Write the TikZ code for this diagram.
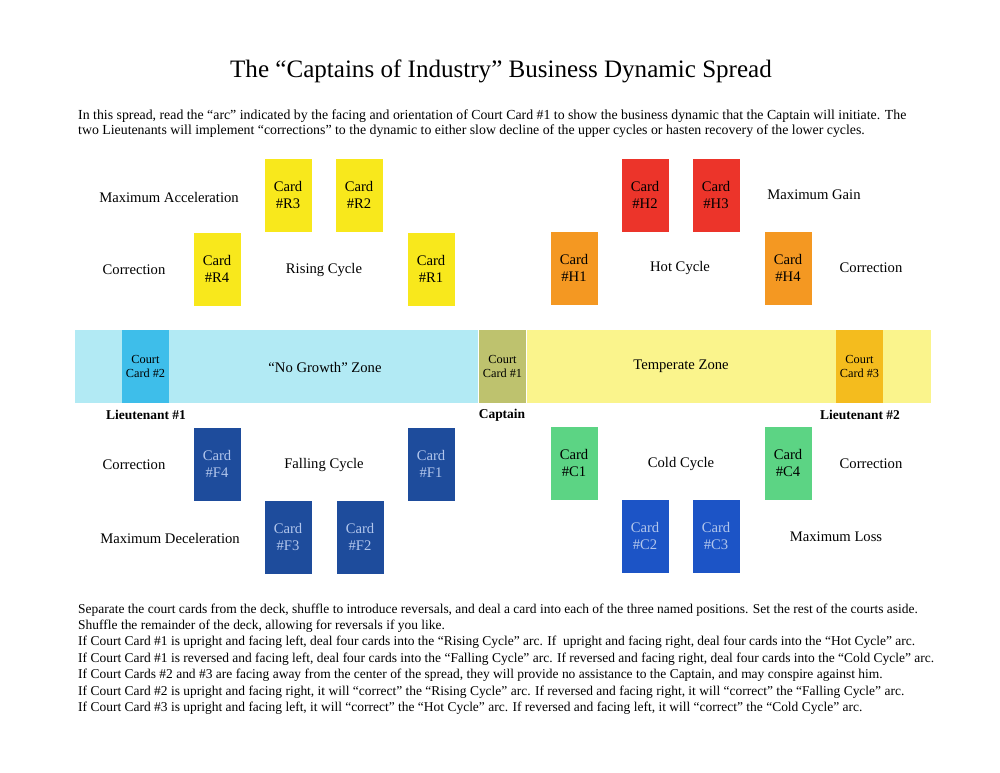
\documentclass[tikz,border=0pt]{standalone}
\usepackage{fontspec}
\setmainfont{Liberation Serif}
\usepackage{tikz}

\begin{document}
\begin{tikzpicture}[x=0.3mm,y=-0.3mm,
  card/.style={minimum width=1.41cm, minimum height=2.19cm, inner sep=0pt, align=center, font=\fontsize{12.5}{15}\selectfont},
  court/.style={minimum width=1.41cm, minimum height=2.19cm, inner sep=0pt, align=center, font=\fontsize{10.5}{12.5}\selectfont},
  lbl/.style={font=\fontsize{12.5}{15}\selectfont},
  role/.style={font=\fontsize{11.5}{14}\selectfont\bfseries},
  para/.style={anchor=west, align=left, inner sep=0pt}]
\useasboundingbox[fill=white] (0,0) rectangle (1000,773);
\definecolor{risingColor}{RGB}{248,232,28}
\definecolor{hotColor}{RGB}{236,52,42}
\definecolor{warmColor}{RGB}{244,152,34}
\definecolor{fallingColor}{RGB}{30,76,156}
\definecolor{coldColor}{RGB}{28,84,198}
\definecolor{coolColor}{RGB}{92,212,132}
\definecolor{blueText}{RGB}{178,198,236}
\definecolor{noGrowthColor}{RGB}{178,234,244}
\definecolor{temperateColor}{RGB}{250,244,140}
\definecolor{lieutOneColor}{RGB}{62,190,234}
\definecolor{captainColor}{RGB}{190,194,110}
\definecolor{lieutTwoColor}{RGB}{244,188,30}
% title and introduction
\node[font=\fontsize{21.4}{25}\selectfont] (title) at (501,71) {The “Captains of Industry” Business Dynamic Spread};
\node[para, font=\fontsize{11.8}{13}\selectfont] (intro) at (78,123.5) {In this spread, read the “arc” indicated by the facing and orientation of Court Card \#1 to show the business dynamic that the Captain will initiate. The\\
two Lieutenants will implement “corrections” to the dynamic to either slow decline of the upper cycles or hasten recovery of the lower cycles.};
% upper cycles
\foreach \x/\y/\n in {288/195/R3,359/195/R2,217/269/R4,431/269/R1}
  \node[card, fill=risingColor] (card\n) at (\x,\y) {Card\\\#\n};
\foreach \x/\y/\n in {645/195/H2,716/195/H3}
  \node[card, fill=hotColor] (card\n) at (\x,\y) {Card\\\#\n};
\foreach \x/\y/\n in {574/268/H1,788/268/H4}
  \node[card, fill=warmColor] (card\n) at (\x,\y) {Card\\\#\n};
\node[lbl] (maxAcc) at (169,197) {Maximum Acceleration};
\node[lbl] (corrR) at (134,270) {Correction};
\node[lbl] (rising) at (324,270) {Rising Cycle};
\node[lbl] (maxGain) at (814,195) {Maximum Gain};
\node[lbl] (hot) at (680,268) {Hot Cycle};
\node[lbl] (corrH) at (871,268) {Correction};
% zone band
\fill[noGrowthColor] (75,330) rectangle (478,403);
\fill[temperateColor] (527,330) rectangle (931,403);
\node[court, fill=lieutOneColor] (court2) at (145.5,366.5) {Court\\Card \#2};
\node[court, fill=captainColor] (court1) at (502.5,366.5) {Court\\Card \#1};
\node[court, fill=lieutTwoColor] (court3) at (859.5,366.5) {Court\\Card \#3};
\node[lbl] (noGrowth) at (325,367) {“No Growth” Zone};
\node[lbl] (temperate) at (681,366) {Temperate Zone};
\node[role] (lieutOne) at (146,415) {Lieutenant \#1};
\node[role] (captain) at (502,415) {Captain};
\node[role] (lieutTwo) at (860,415) {Lieutenant \#2};
% lower cycles
\foreach \x/\y/\n in {217/464/F4,431/464/F1,288/537/F3,360/537/F2}
  \node[card, fill=fallingColor, text=blueText] (card\n) at (\x,\y) {Card\\\#\n};
\foreach \x/\y/\n in {574/463/C1,788/463/C4}
  \node[card, fill=coolColor] (card\n) at (\x,\y) {Card\\\#\n};
\foreach \x/\y/\n in {645/536/C2,716/536/C3}
  \node[card, fill=coldColor, text=blueText] (card\n) at (\x,\y) {Card\\\#\n};
\node[lbl] (corrF) at (134,465) {Correction};
\node[lbl] (falling) at (324,465) {Falling Cycle};
\node[lbl] (maxDec) at (170,538) {Maximum Deceleration};
\node[lbl] (cold) at (681,464) {Cold Cycle};
\node[lbl] (corrC) at (871,464) {Correction};
\node[lbl] (maxLoss) at (836,537) {Maximum Loss};
% instructions
\node[para, font=\fontsize{11.5}{14}\selectfont] (rules) at (78,659) {Separate the court cards from the deck, shuffle to introduce reversals, and deal a card into each of the three named positions. Set the rest of the courts aside.\\
Shuffle the remainder of the deck, allowing for reversals if you like.\\
If Court Card \#1 is upright and facing left, deal four cards into the “Rising Cycle” arc. If~ upright and facing right, deal four cards into the “Hot Cycle” arc.\\
If Court Card \#1 is reversed and facing left, deal four cards into the “Falling Cycle” arc. If reversed and facing right, deal four cards into the “Cold Cycle” arc.\\
If Court Cards \#2 and \#3 are facing away from the center of the spread, they will provide no assistance to the Captain, and may conspire against him.\\
If Court Card \#2 is upright and facing right, it will “correct” the “Rising Cycle” arc. If reversed and facing right, it will “correct” the “Falling Cycle” arc.\\
If Court Card \#3 is upright and facing left, it will “correct” the “Hot Cycle” arc. If reversed and facing left, it will “correct” the “Cold Cycle” arc.};
\end{tikzpicture}
\end{document}
